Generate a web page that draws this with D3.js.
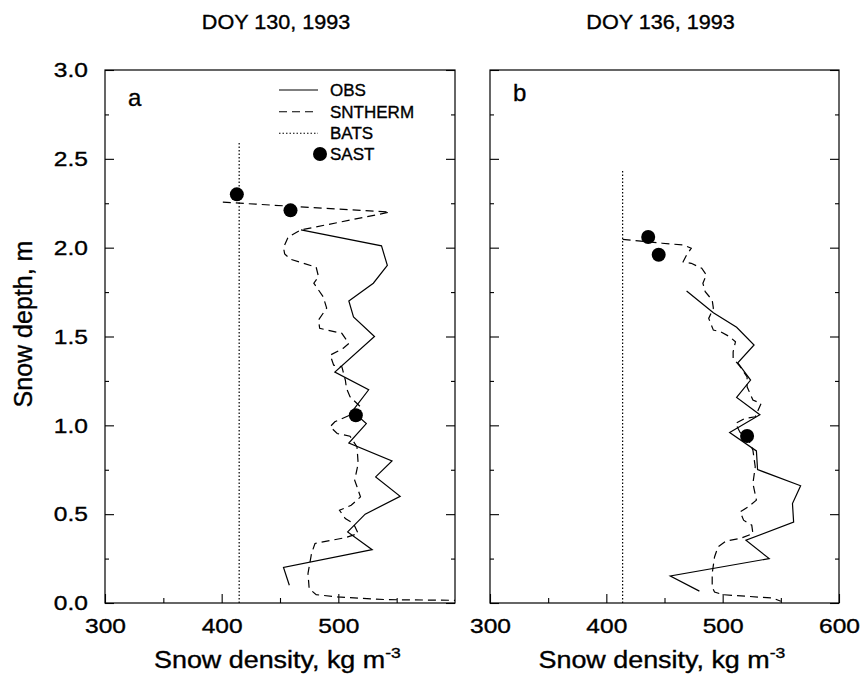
<!DOCTYPE html>
<html>
<head>
<meta charset="utf-8">
<script src="https://cdn.jsdelivr.net/npm/d3@7"></script>
<style>
  html, body { margin: 0; padding: 0; background: #fff; }
  text { font-family: "Liberation Sans", Arial, Helvetica, sans-serif; fill: #000; stroke: #000; stroke-width: 0.35px; }
</style>
</head>
<body>
<svg id="chart" width="863" height="675"></svg>
<script>
// ---------------- DATA ----------------
const panelTitles = ["DOY 130, 1993", "DOY 136, 1993"];
const panelLetters = ["a", "b"];
const xTickLabelsA = [300, 400, 500];
const xTickLabelsB = [300, 400, 500, 600];
const yTickLabels = [0.0, 0.5, 1.0, 1.5, 2.0, 2.5, 3.0];
const legendNames = ["OBS", "SNTHERM", "BATS", "SAST"];

// Panel a (DOY 130)
const obsA_depth   = [2.10, 2.01, 1.90, 1.80, 1.70, 1.61, 1.50, 1.30, 1.20, 1.08, 1.01, 0.90, 0.80, 0.71, 0.60, 0.50, 0.40, 0.30, 0.20, 0.10];
const obsA_density = [468, 537, 542, 530, 509, 513, 531, 497, 526, 512, 524, 509, 546, 532, 553, 523, 508, 529, 453, 458];

const snA_depth   = [2.256, 2.20, 2.10, 2.06, 2.00, 1.965, 1.935, 1.89, 1.837, 1.80, 1.724, 1.66, 1.593, 1.546, 1.518, 1.461, 1.433, 1.395, 1.339, 1.33, 1.255, 1.208, 1.161, 1.104, 1.086, 1.02, 0.992, 0.954, 0.939, 0.879, 0.785, 0.691, 0.654, 0.597, 0.55, 0.522, 0.475, 0.447, 0.391, 0.368, 0.335, 0.278, 0.166, 0.081, 0.047, 0.034, 0.019, 0.015];
const snA_density = [401, 544, 468, 457, 453, 454, 459, 481, 483, 479, 487, 490, 483, 484, 503, 509, 504, 493, 496, 503, 506, 507, 510, 519, 520, 497, 493, 499, 510, 516, 517, 514, 516, 519, 511, 501, 506, 513, 517, 506, 480, 477, 474, 475, 481, 499, 541, 601];

const batsA_depth   = [0.0, 2.6];
const batsA_density = [415, 415];

const sastA_depth   = [2.30, 2.21, 1.057];
const sastA_density = [413, 459, 515];

// Panel b (DOY 136)
const obsB_depth   = [1.756, 1.634, 1.552, 1.452, 1.352, 1.255, 1.157, 1.06, 0.96, 0.856, 0.751, 0.66, 0.56, 0.455, 0.353, 0.25, 0.152, 0.067];
const obsB_density = [469, 492, 512, 527, 513, 524, 512, 532, 506, 529, 530, 567, 560, 561, 520, 540, 455, 480];

const snB_depth   = [2.047, 2.025, 2.015, 1.997, 1.959, 1.921, 1.912, 1.884, 1.846, 1.80, 1.752, 1.705, 1.659, 1.602, 1.536, 1.527, 1.499, 1.47, 1.414, 1.377, 1.33, 1.273, 1.217, 1.142, 1.123, 1.048, 1.039, 1.011, 0.96, 0.907, 0.86, 0.766, 0.673, 0.579, 0.541, 0.513, 0.466, 0.438, 0.391, 0.363, 0.349, 0.316, 0.259, 0.166, 0.09, 0.062, 0.047, 0.028, 0.01];
const snB_density = [414, 448, 466, 473, 469, 466, 473, 482, 486, 483, 485, 491, 492, 488, 492, 498, 506, 511, 509, 509, 515, 521, 521, 526, 533, 528, 519, 511, 515, 523, 526, 528, 526, 529, 522, 515, 518, 525, 526, 515, 503, 496, 493, 491, 491, 493, 500, 543, 550];

const batsB_depth   = [0.0, 2.44];
const batsB_density = [414, 414];

const sastB_depth   = [2.06, 1.96, 0.94];
const sastB_density = [436, 445, 521];

// ---------------- LAYOUT ----------------
const svg = d3.select("#chart");
const yTop = 70, yBottom = 603;
const panels = [
  { x0: 105, x1: 455, title: panelTitles[0], letter: panelLetters[0], letterY: 106, yLabels: true, xLabels: xTickLabelsA,
    obs: [obsA_density, obsA_depth], sn: [snA_density, snA_depth], bats: [batsA_density, batsA_depth], sast: [sastA_density, sastA_depth], legend: true },
  { x0: 490, x1: 839, title: panelTitles[1], letter: panelLetters[1], letterY: 101, yLabels: false, xLabels: xTickLabelsB,
    obs: [obsB_density, obsB_depth], sn: [snB_density, snB_depth], bats: [batsB_density, batsB_depth], sast: [sastB_density, sastB_depth], legend: false }
];

const zip = (xs, ys) => xs.map((v, i) => [v, ys[i]]);
const tickFS = 21, tickStretch = 1.17;

panels.forEach((p, pi) => {
  const x = d3.scaleLinear().domain([300, 600]).range([p.x0, p.x1]);
  const y = d3.scaleLinear().domain([0, 3]).range([yBottom, yTop]);
  const g = svg.append("g");

  const clipId = "clip" + pi;
  svg.append("clipPath").attr("id", clipId).append("rect")
    .attr("x", p.x0).attr("y", yTop).attr("width", p.x1 - p.x0).attr("height", yBottom - yTop);

  // Title
  g.append("text")
    .attr("transform", `translate(${(p.x0 + p.x1) / 2 - 4},29) scale(1.08,1)`)
    .attr("text-anchor", "middle").style("font-size", "20px").text(p.title);

  // Bottom axis
  const bMajor = g.append("g").attr("transform", `translate(0,${yBottom})`)
    .call(d3.axisBottom(x).tickValues(p.xLabels).tickSize(-9).tickPadding(30 - 0.71 * tickFS).tickFormat(d3.format("d")));
  g.append("g").attr("transform", `translate(0,${yBottom})`)
    .call(d3.axisBottom(x).tickValues([350, 450, 550]).tickSize(-5).tickFormat(""));

  // Left axis
  const lMajor = g.append("g").attr("transform", `translate(${p.x0},0)`)
    .call(d3.axisLeft(y).tickValues(yTickLabels).tickSize(-9).tickPadding(17 / tickStretch).tickFormat(p.yLabels ? d3.format(".1f") : ""));
  g.append("g").attr("transform", `translate(${p.x0},0)`)
    .call(d3.axisLeft(y).tickValues([0.25, 0.75, 1.25, 1.75, 2.25, 2.75]).tickSize(-4).tickFormat(""));
  // Right axis
  g.append("g").attr("transform", `translate(${p.x1},0)`)
    .call(d3.axisRight(y).tickValues(yTickLabels).tickSize(-9).tickFormat(""));
  g.append("g").attr("transform", `translate(${p.x1},0)`)
    .call(d3.axisRight(y).tickValues([0.25, 0.75, 1.25, 1.75, 2.25, 2.75]).tickSize(-4).tickFormat(""));

  g.selectAll(".domain").remove();
  g.selectAll(".tick line").attr("stroke", "#000").attr("stroke-width", 1.1);
  [bMajor, lMajor].forEach(ax => {
    ax.selectAll(".tick text")
      .style("font-size", tickFS + "px")
      .style("font-family", '"Liberation Sans", Arial, sans-serif')
      .attr("fill", "#000")
      .attr("transform", `scale(${tickStretch},1)`);
  });

  // Frame
  g.append("rect").attr("x", p.x0).attr("y", yTop).attr("width", p.x1 - p.x0).attr("height", yBottom - yTop)
    .attr("fill", "none").attr("stroke", "#000").attr("stroke-width", 1.2);

  // Panel letter
  g.append("text").attr("x", p.x0 + 23).attr("y", p.letterY).style("font-size", "24px").text(p.letter);

  const line = d3.line().x(d => x(d[0])).y(d => y(d[1]));
  const data = g.append("g").attr("clip-path", `url(#${clipId})`);

  // BATS dotted
  data.append("path").attr("d", line(zip(p.bats[0], p.bats[1])))
    .attr("fill", "none").attr("stroke", "#000").attr("stroke-width", 1.2).attr("stroke-dasharray", "1.5,2");
  // SNTHERM dashed
  data.append("path").attr("d", line(zip(p.sn[0], p.sn[1])))
    .attr("fill", "none").attr("stroke", "#000").attr("stroke-width", 1.2).attr("stroke-dasharray", "8,5");
  // OBS solid
  data.append("path").attr("d", line(zip(p.obs[0], p.obs[1])))
    .attr("fill", "none").attr("stroke", "#000").attr("stroke-width", 1.2);
  // SAST dots
  data.selectAll("circle.sast").data(zip(p.sast[0], p.sast[1])).join("circle")
    .attr("class", "sast").attr("cx", d => x(d[0])).attr("cy", d => y(d[1])).attr("r", 7).attr("fill", "#000");

  // X axis label
  const xl = g.append("text")
    .attr("transform", `translate(${(p.x0 + p.x1) / 2 - 126},668) scale(1.17,1)`)
    .style("font-size", "23px");
  xl.append("tspan").text("Snow density, kg m");
  xl.append("tspan").attr("dy", -10).style("font-size", "15px").text("-3");

  // Legend
  if (p.legend) {
    const lx0 = 279, lx1 = 318, tx = 330;
    const rows = [90, 111.7, 133.3, 154];
    const styles = [null, "8,5", "1.5,2"];
    legendNames.forEach((name, i) => {
      if (i < 3) {
        const ln = g.append("line").attr("x1", lx0).attr("x2", lx1).attr("y1", rows[i]).attr("y2", rows[i])
          .attr("stroke", "#000").attr("stroke-width", 1.1);
        if (styles[i]) ln.attr("stroke-dasharray", styles[i]);
      } else {
        g.append("circle").attr("cx", 320).attr("cy", rows[i]).attr("r", 7).attr("fill", "#000");
      }
      g.append("text").attr("x", tx).attr("y", rows[i] + 6).style("font-size", "17px").text(name);
    });
  }
});

// Y axis label
svg.append("text")
  .attr("transform", "translate(31.5,324) rotate(-90)")
  .attr("text-anchor", "middle").style("font-size", "25px").text("Snow depth, m");
</script>
</body>
</html>
